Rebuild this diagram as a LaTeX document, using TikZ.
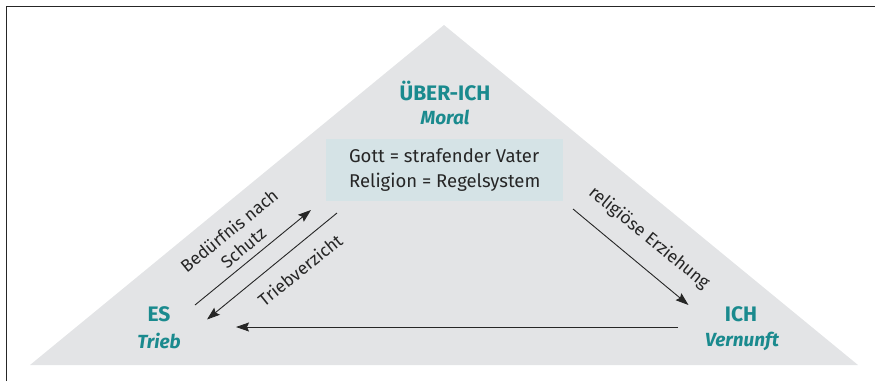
\documentclass[tikz,border=0pt]{standalone}
\usepackage{fontspec}
\setmainfont{Fira Sans}
\usetikzlibrary{arrows.meta}
\definecolor{teal}{HTML}{1A8A8E}
\definecolor{trigray}{HTML}{E3E4E6}
\definecolor{boxblue}{HTML}{D5E3E6}
\definecolor{ink}{HTML}{262626}
\begin{document}
\begin{tikzpicture}[x=1pt,y=-1pt,
  head/.style={font=\fontsize{21}{24}\selectfont\bfseries, text=teal, inner sep=0pt},
  sub/.style={font=\fontsize{19}{22}\selectfont\bfseries\itshape, text=teal, inner sep=0pt},
  lbl/.style={font=\fontsize{17.5}{22}\selectfont, text=ink, inner sep=0pt, align=center},
  flow/.style={draw=ink, line width=0.9pt, -{Stealth[length=13pt,width=9pt,inset=2pt]}}]
  \useasboundingbox (0,0) rectangle (875,381);
  % frame corner
  \draw[ink, line width=1.4pt] (6.5,381) -- (6.5,6.5) -- (875,6.5);
  % triangle
  \fill[trigray] (30,365) -- (444,25) -- (858,365) -- cycle;
  % box
  \node[fill=boxblue, minimum width=237pt, minimum height=62pt, inner sep=0pt,
        anchor=north west] (box) at (326,139) {};
  \node[lbl, align=left, font=\fontsize{18.5}{25}\selectfont] (boxtext) at (box.center)
    {Gott = strafender Vater\\Religion = Regelsystem};
  % headings
  \node[head] (ueber) at (445,91) {ÜBER-ICH};
  \node[sub] (moral) at (445,117) {Moral};
  \node[head] (es) at (159,314) {ES};
  \node[sub] (trieb) at (159,341) {Trieb};
  \node[head] (ich) at (741,314) {ICH};
  \node[sub] (vernunft) at (742,341) {Vernunft};
  % arrow end points
  \coordinate (a1) at (195,305);   \coordinate (b1) at (311,210);
  \coordinate (a2) at (337,213);   \coordinate (b2) at (207,319.5);
  \coordinate (a3) at (678,327);   \coordinate (b3) at (236,327);
  \coordinate (a4) at (573,209);   \coordinate (b4) at (688.5,305);
  \draw[flow] (a1) -- (b1);
  \draw[flow] (a2) -- (b2);
  \draw[flow] (a3) -- (b3);
  \draw[flow] (a4) -- (b4);
  % arrow labels
  \node[lbl, rotate=39.4] (l1) at (236,239) {Bedürfnis nach\\Schutz};
  \node[lbl, rotate=38.8] (l2) at (300,270) {Triebverzicht};
  \node[lbl, rotate=-39.4] (l3) at (649,238) {religiöse Erziehung};
\end{tikzpicture}
\end{document}
